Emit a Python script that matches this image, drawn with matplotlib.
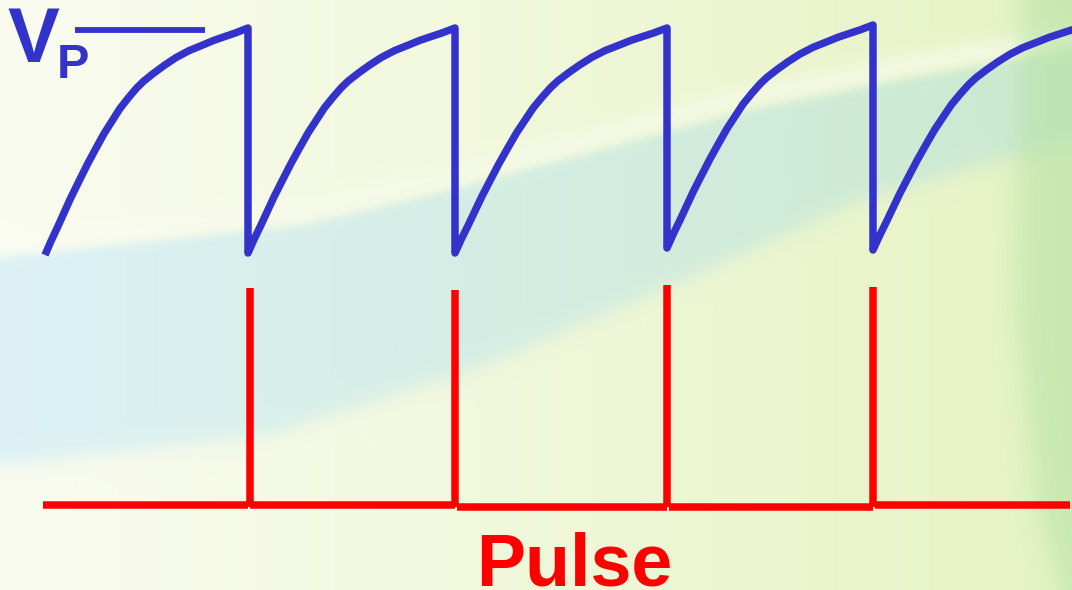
import matplotlib
matplotlib.use("Agg")
import matplotlib.pyplot as plt
import numpy as np

# Charging curve of one cycle:
# fraction of the period vs. fraction of the swing (trough -> peak)
charge_frac = [0, 0.029, 0.063, 0.126, 0.17, 0.209, 0.248, 0.291, 0.330,
               0.369, 0.413, 0.451, 0.485, 0.534, 0.587, 0.646, 0.709,
               0.777, 0.83, 0.888, 0.937, 1.0]
charge_v = [0, 0.06, 0.125, 0.25, 0.33, 0.40, 0.465, 0.535, 0.59,
            0.645, 0.695, 0.735, 0.765, 0.80, 0.835, 0.87, 0.90,
            0.925, 0.945, 0.963, 0.978, 1.0]

# Cycles of the capacitor voltage (pixel units of the slide)
cycle_start = [45, 248, 455, 667, 873]
cycle_end = [248, 455, 667, 873, 1085]
trough_level = [255, 253, 253, 248, 250]
peak_level = [28, 28, 28, 25, 25]

# Output pulses
pulse_x = [250, 455, 667, 873]
pulse_top = [288, 290, 285, 287]
baseline_x = [43, 250, 457, 669, 875, 1072]
baseline_y = [505, 505, 507, 507, 505]

# Peak-voltage marker
vp_x = [75, 205]
vp_y = 30

W, H = 1072, 590
BLUE = "#3333CC"
RED = "#FF0000"

plt.rcParams["font.family"] = ["Liberation Sans", "DejaVu Sans"]


def sig(z):
    return 1.0 / (1.0 + np.exp(-z))


def background():
    """Soft slide background: cream -> pale green, a teal swoosh and a green
    strip on the right edge."""
    yy, xx = np.mgrid[0:H, 0:W].astype(float)
    t = (xx / W)[..., None]
    c0 = np.array([250, 252, 240]) / 255
    c1 = np.array([230, 243, 195]) / 255
    img = c0 * (1 - t) + c1 * t

    x = np.arange(W)
    upper = np.interp(x, [0, 300, 450, 600, 750, 900, 1072],
                      [257, 225, 190, 150, 110, 80, 50])[None, :]
    lower = np.interp(x, [0, 273, 478, 683, 868, 1000, 1072],
                      [465, 433, 367, 280, 197, 160, 145])[None, :]

    # whitish sheen just above the swoosh, stronger towards the right
    sheen = (0.1 + 0.35 * xx / W) * np.exp(-((yy - (upper - 14)) / 14) ** 2)
    img = img * (1 - sheen[..., None]) + sheen[..., None] * np.ones(3)

    band = sig((yy - upper) / 2.5) * sig((lower - yy) / 6)
    b0 = np.array([218, 240, 246]) / 255
    b1 = np.array([200, 232, 208]) / 255
    bcol = b0 * (1 - t) + b1 * t
    a = 0.92 * band[..., None]
    img = img * (1 - a) + bcol * a

    edge = np.interp(np.arange(H), [0, 300, 500, 590],
                     [1020, 1015, 1035, 1060])[:, None]
    strip = 0.6 * sig((xx - edge) / 8)
    g = np.array([182, 226, 165]) / 255
    img = img * (1 - strip[..., None]) + g * strip[..., None]
    return np.clip(img, 0, 1)


fig = plt.figure(figsize=(W / 100, H / 100), dpi=100)
ax = fig.add_axes([0, 0, 1, 1])
ax.imshow(background(), extent=(0, W, H, 0), aspect="auto", zorder=0)

# capacitor voltage: charge, then drop at each firing
vx, vy = [], []
frac = np.array(charge_frac)
v = np.array(charge_v)
for i, (s, e, lo, hi) in enumerate(zip(cycle_start, cycle_end,
                                        trough_level, peak_level)):
    vx.extend(s + frac * (e - s))
    vy.extend(lo - v * (lo - hi))
    if i + 1 < len(cycle_start):
        vx.append(e)
        vy.append(trough_level[i + 1])
ax.plot(vx, vy, color=BLUE, lw=5.4, solid_joinstyle="round",
        solid_capstyle="butt", zorder=3)

# Vp level marker
ax.plot(vp_x, [vp_y, vp_y], color=BLUE, lw=4.2, solid_capstyle="butt", zorder=3)
ax.text(7, 62, "V", color=BLUE, fontsize=56, fontweight="bold",
        ha="left", va="baseline", zorder=4)
ax.text(57, 78, "P", color=BLUE, fontsize=35, fontweight="bold",
        ha="left", va="baseline", zorder=4)

# pulse train
for k in range(len(baseline_y)):
    ax.plot([baseline_x[k], baseline_x[k + 1] - 2], [baseline_y[k]] * 2,
            color=RED, lw=5.4, solid_capstyle="butt", zorder=3)
for px, top in zip(pulse_x, pulse_top):
    ax.plot([px, px], [top, 507], color=RED, lw=5.4,
            solid_capstyle="butt", zorder=3)

ax.text(574, 585, "Pulse", color=RED, fontsize=53, fontweight="bold",
        ha="center", va="baseline", zorder=4)

ax.set_xlim(0, W)
ax.set_ylim(H, 0)
ax.axis("off")
fig.savefig("out.png", dpi=100)
